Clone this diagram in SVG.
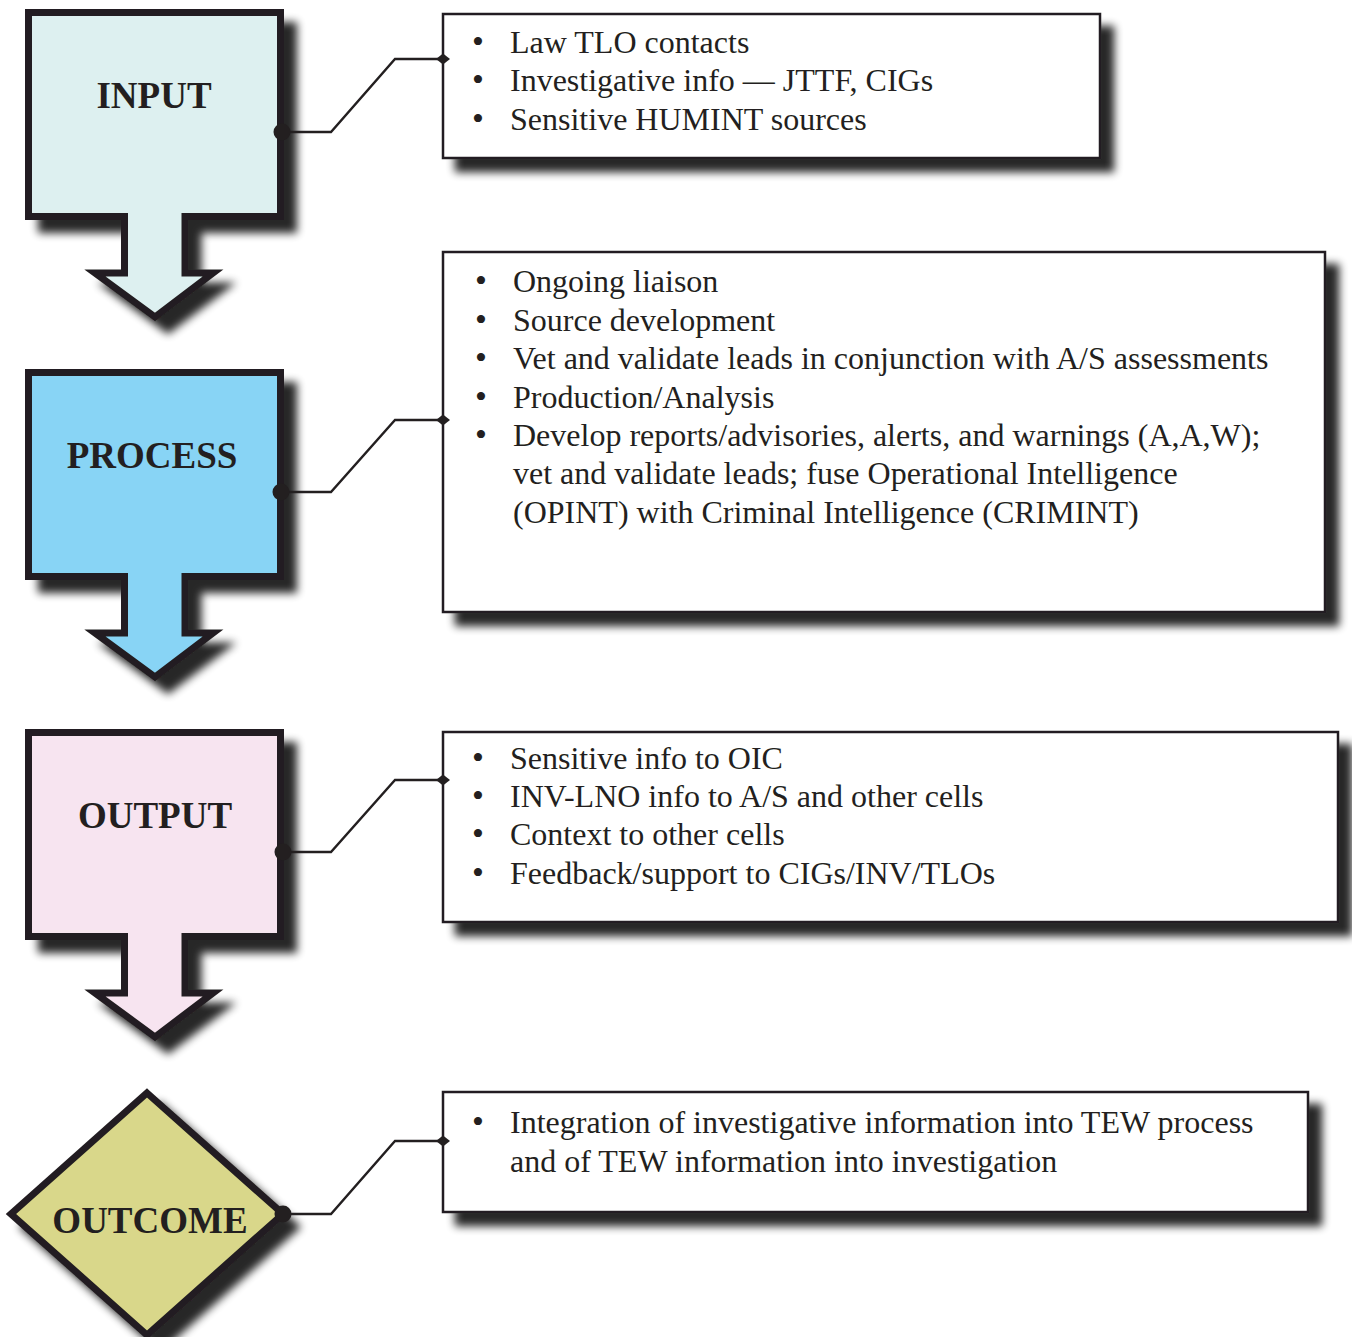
<svg xmlns="http://www.w3.org/2000/svg" width="1352" height="1337" viewBox="0 0 1352 1337">
  <style>
    .stage { stroke: #231f20; stroke-width: 7; stroke-linejoin: miter; stroke-miterlimit: 10; }
    .label { font-family: "Liberation Serif", "Times New Roman", serif; font-weight: bold; font-size: 37px; fill: #231f20; text-anchor: middle; }
    .panel { fill: #ffffff; stroke: #231f20; stroke-width: 2.5; }
    .item { font-family: "Liberation Serif", "Times New Roman", serif; font-size: 32px; fill: #231f20; }
    .bullet { font-family: "Liberation Serif", "Times New Roman", serif; font-size: 34px; fill: #231f20; }
    .link { fill: none; stroke: #231f20; stroke-width: 2.4; marker-start: url(#dot); marker-end: url(#tip); }
  </style>
  <defs>
    <filter id="shadow" x="-10%" y="-10%" width="130%" height="130%">
      <feGaussianBlur in="SourceAlpha" stdDeviation="4"/>
      <feOffset dx="13" dy="13" result="off"/>
      <feComponentTransfer><feFuncA type="linear" slope="0.85"/></feComponentTransfer>
      <feMerge><feMergeNode/><feMergeNode in="SourceGraphic"/></feMerge>
    </filter>
    <!-- box with a down-pointing arrow underneath -->
    <path id="stageShape" d="M28.5,12.5 H280.5 V216.5 H185 V273 H213 L155,317 L95,273 H124.5 V216.5 H28.5 Z"/>
    <marker id="dot" markerUnits="userSpaceOnUse" markerWidth="20" markerHeight="20" refX="10" refY="10" orient="auto">
      <circle cx="10" cy="10" r="8.5" fill="#231f20"/>
    </marker>
    <marker id="tip" markerUnits="userSpaceOnUse" markerWidth="16" markerHeight="16" refX="8" refY="8" orient="auto">
      <path d="M1,8 L8,2.5 L15,8 L8,13.5 Z" fill="#231f20"/>
    </marker>
  </defs>

  <rect width="1352" height="1337" fill="#ffffff"/>

  <!-- stage nodes -->
  <g id="input">
    <use href="#stageShape" class="stage" fill="#ddf0f0" filter="url(#shadow)"/>
    <text class="label" x="154" y="108">INPUT</text>
  </g>
  <g id="process">
    <use href="#stageShape" class="stage" fill="#88d4f5" filter="url(#shadow)" transform="translate(0,360)"/>
    <text class="label" x="152" y="468">PROCESS</text>
  </g>
  <g id="output">
    <use href="#stageShape" class="stage" fill="#f7e4f0" filter="url(#shadow)" transform="translate(0,720)"/>
    <text class="label" x="155" y="828">OUTPUT</text>
  </g>
  <g id="outcome">
    <path d="M147,1093 L283,1214 L147,1335 L11,1214 Z" class="stage" stroke-width="6" fill="#d9d78a" filter="url(#shadow)"/>
    <text class="label" x="150" y="1233">OUTCOME</text>
  </g>

  <!-- detail panels -->
  <g id="input-details">
    <rect class="panel" x="443" y="14" width="657" height="144" filter="url(#shadow)"/>
    <text class="bullet" x="472" y="53">•</text><text class="item" x="510" y="53">Law TLO contacts</text>
    <text class="bullet" x="472" y="91">•</text><text class="item" x="510" y="91">Investigative info — JTTF, CIGs</text>
    <text class="bullet" x="472" y="130">•</text><text class="item" x="510" y="130">Sensitive HUMINT sources</text>
  </g>
  <g id="process-details">
    <rect class="panel" x="443" y="252" width="882" height="360" filter="url(#shadow)"/>
    <text class="bullet" x="475" y="292">•</text><text class="item" x="513" y="292">Ongoing liaison</text>
    <text class="bullet" x="475" y="331">•</text><text class="item" x="513" y="331">Source development</text>
    <text class="bullet" x="475" y="369">•</text><text class="item" x="513" y="369">Vet and validate leads in conjunction with A/S assessments</text>
    <text class="bullet" x="475" y="408">•</text><text class="item" x="513" y="408">Production/Analysis</text>
    <text class="bullet" x="475" y="446">•</text><text class="item" x="513" y="446">Develop reports/advisories, alerts, and warnings (A,A,W);</text>
    <text class="item" x="513" y="484">vet and validate leads; fuse Operational Intelligence</text>
    <text class="item" x="513" y="523">(OPINT) with Criminal Intelligence (CRIMINT)</text>
  </g>
  <g id="output-details">
    <rect class="panel" x="443" y="732" width="895" height="190" filter="url(#shadow)"/>
    <text class="bullet" x="472" y="769">•</text><text class="item" x="510" y="769">Sensitive info to OIC</text>
    <text class="bullet" x="472" y="807">•</text><text class="item" x="510" y="807">INV-LNO info to A/S and other cells</text>
    <text class="bullet" x="472" y="845">•</text><text class="item" x="510" y="845">Context to other cells</text>
    <text class="bullet" x="472" y="884">•</text><text class="item" x="510" y="884">Feedback/support to CIGs/INV/TLOs</text>
  </g>
  <g id="outcome-details">
    <rect class="panel" x="443" y="1092" width="865" height="120" filter="url(#shadow)"/>
    <text class="bullet" x="472" y="1133">•</text><text class="item" x="510" y="1133">Integration of investigative information into TEW process</text>
    <text class="item" x="510" y="1172">and of TEW information into investigation</text>
  </g>

  <!-- connectors -->
  <g id="connectors">
    <path class="link" d="M282,132 H331 L395,59 H443"/>
    <path class="link" d="M281,492 H331 L395,420 H443"/>
    <path class="link" d="M283,852 H331 L395,780 H443"/>
    <path class="link" d="M283,1214 H331 L395,1141 H443"/>
  </g>
</svg>
